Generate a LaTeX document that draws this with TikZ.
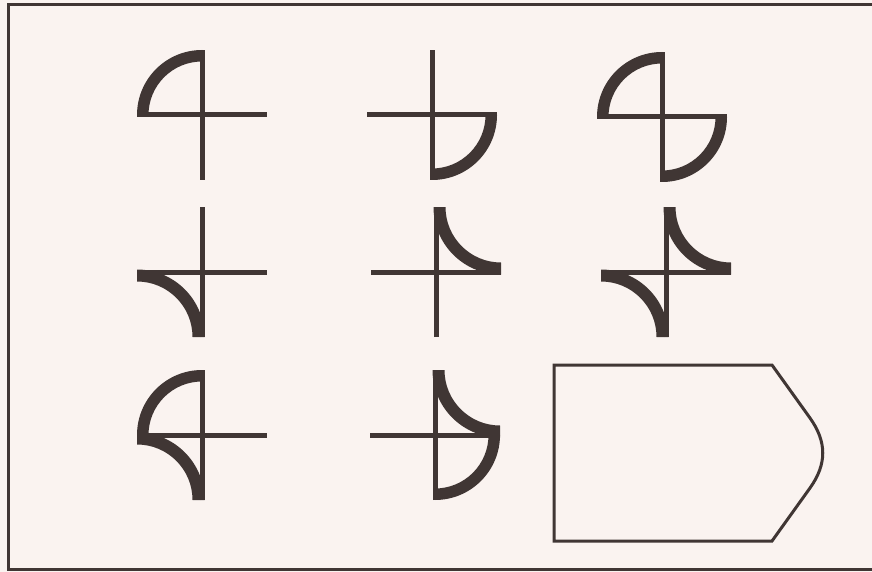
\documentclass[tikz,border=0pt]{standalone}
\usepackage{tikz}
\definecolor{paper}{HTML}{FAF3F0}
\definecolor{ink}{HTML}{403634}
\tikzset{
  thinline/.style={draw=ink,line width=5pt,line cap=butt},
  band/.style={fill=ink,draw=none},
  outline/.style={draw=ink,line width=3pt,line join=miter},
  framel/.style={draw=ink,line width=3pt}
}
% cross: center name
\newcommand{\crossat}[1]{%
  \draw[thinline] (#1) ++(-65,0) -- ++(130,0);
  \draw[thinline] (#1) ++(0,-65) -- ++(0,130);}
% convex band centered at crossing, start angle
\newcommand{\convexq}[2]{%
  \fill[band] (#1) ++(#2:65) arc[start angle=#2, end angle=#2+90, radius=65]
     -- ++(#2+90:-11.5) arc[start angle=#2+90, end angle=#2, radius=53.5] -- cycle;}
% concave band centered at corner (offset dx,dy), start angle
\newcommand{\concaveq}[4]{%
  \fill[band] (#1) ++(#2,#3) ++(#4:67.5) arc[start angle=#4, end angle=#4+90, radius=67.5]
     -- ++(#4+90:-12) arc[start angle=#4+90, end angle=#4, radius=55.5] -- cycle;}
\begin{document}
\begin{tikzpicture}[x=1pt,y=1pt]
\fill[paper] (0,0) rectangle (872,-572);
\useasboundingbox (0,0) rectangle (872,-572);
\clip (0,0) rectangle (872,-572);
\draw[framel] (880,-5) -- (8,-5) -- (8,-569) -- (880,-569);
% centers
\coordinate (c1) at (202,-115);
\coordinate (c2) at (432,-115);
\coordinate (c3) at (662,-117);
\coordinate (c4) at (202,-272);
\coordinate (c5) at (436,-272);
\coordinate (c6) at (666,-272);
\coordinate (c7) at (202,-435);
\coordinate (c8) at (435,-435);
% figure 1
\crossat{c1} \convexq{c1}{90}
% figure 2
\crossat{c2} \convexq{c2}{270}
% figure 3
\crossat{c3} \convexq{c3}{90} \convexq{c3}{270}
% figure 4
\crossat{c4} \concaveq{c4}{-65}{-65}{0}
% figure 5
\crossat{c5} \concaveq{c5}{65}{65}{180}
% figure 6
\crossat{c6} \concaveq{c6}{65}{65}{180} \concaveq{c6}{-65}{-65}{0}
% figure 7
\crossat{c7} \convexq{c7}{90} \concaveq{c7}{-65}{-65}{0}
% figure 8
\crossat{c8} \concaveq{c8}{65}{65}{180} \convexq{c8}{270}
% answer shape
\coordinate (s1) at (554,-365);
\coordinate (s2) at (772,-365);
\coordinate (s3) at (810,-418);
\coordinate (s4) at (810,-488);
\coordinate (s5) at (772,-541);
\coordinate (s6) at (554,-541);
\draw[outline] (s1) -- (s2) -- (s3) .. controls (827,-442) and (827,-464) .. (s4) -- (s5) -- (s6) -- cycle;
\end{tikzpicture}
\end{document}
